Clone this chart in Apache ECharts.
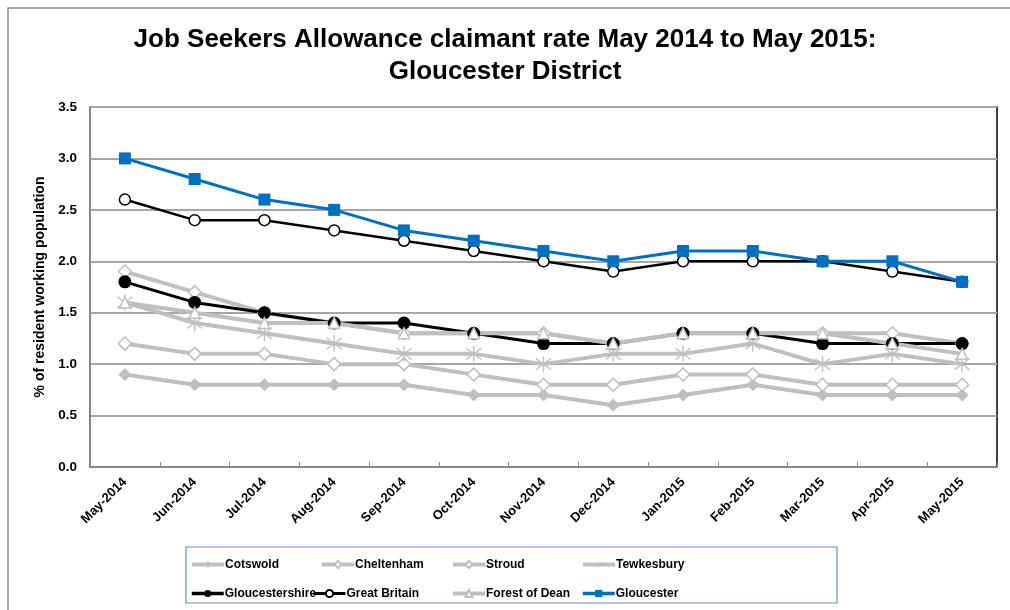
<!DOCTYPE html>
<html>
<head>
<meta charset="utf-8">
<script src="https://cdn.jsdelivr.net/npm/echarts@6/dist/echarts.min.js"></script>
<style>
html,body{margin:0;padding:0;background:#fff;}
#chart{width:1010px;height:610px;}
</style>
</head>
<body>
<div id="chart"></div>
<script>
const categories = ['May-2014','Jun-2014','Jul-2014','Aug-2014','Sep-2014','Oct-2014','Nov-2014','Dec-2014','Jan-2015','Feb-2015','Mar-2015','Apr-2015','May-2015'];
const cotswold        = [0.9,0.8,0.8,0.8,0.8,0.7,0.7,0.6,0.7,0.8,0.7,0.7,0.7];
const cheltenham      = [1.9,1.7,1.5,1.4,1.3,1.3,1.3,1.2,1.3,1.3,1.3,1.3,1.2];
const stroud          = [1.2,1.1,1.1,1.0,1.0,0.9,0.8,0.8,0.9,0.9,0.8,0.8,0.8];
const tewkesbury      = [1.6,1.4,1.3,1.2,1.1,1.1,1.0,1.1,1.1,1.2,1.0,1.1,1.0];
const gloucestershire = [1.8,1.6,1.5,1.4,1.4,1.3,1.2,1.2,1.3,1.3,1.2,1.2,1.2];
const greatBritain    = [2.6,2.4,2.4,2.3,2.2,2.1,2.0,1.9,2.0,2.0,2.0,1.9,1.8];
const forestOfDean    = [1.6,1.5,1.4,1.4,1.3,1.3,1.3,1.2,1.3,1.3,1.3,1.2,1.1];
const gloucester      = [3.0,2.8,2.6,2.5,2.3,2.2,2.1,2.0,2.1,2.1,2.0,2.0,1.8];

const GREY = '#bfbfbf', BLUE = '#0070c0';
const FONT = '"Liberation Sans", Arial, sans-serif';
const ASTERISK = 'path://M9.2,0 L10.8,0 L10.8,20 L9.2,20 Z M1.49,2.37 L19.49,16.37 L18.51,17.63 L0.51,3.63 Z M0.51,16.37 L18.51,2.37 L19.49,3.63 L1.49,17.63 Z';

function greySeries(name, data, symbol, size, filled) {
  return {
    name, type: 'line', data, symbol, symbolSize: size, showAllSymbol: true,
    lineStyle: { color: GREY, width: 4 },
    itemStyle: { color: filled ? GREY : '#fff', borderColor: GREY, borderWidth: filled ? 0 : 1.5 },
    emphasis: { disabled: true }, animation: false
  };
}

const series = [
  greySeries('Cotswold', cotswold, 'diamond', 13, true),
  greySeries('Cheltenham', cheltenham, 'diamond', 13, false),
  greySeries('Stroud', stroud, 'diamond', 13, false),
  { name: 'Tewkesbury', type: 'line', data: tewkesbury, symbol: ASTERISK, symbolSize: 16,
    lineStyle: { color: GREY, width: 4 }, itemStyle: { color: GREY }, animation: false },
  { name: 'Gloucestershire', type: 'line', data: gloucestershire, symbol: 'circle', symbolSize: 13,
    lineStyle: { color: '#000', width: 3 }, itemStyle: { color: '#000' }, animation: false },
  { name: 'Great Britain', type: 'line', data: greatBritain, symbol: 'circle', symbolSize: 11,
    lineStyle: { color: '#000', width: 2.5 }, itemStyle: { color: '#fff', borderColor: '#000', borderWidth: 1.5 }, animation: false },
  greySeries('Forest of Dean', forestOfDean, 'triangle', 11, false),
  { name: 'Gloucester', type: 'line', data: gloucester, symbol: 'rect', symbolSize: 12,
    lineStyle: { color: BLUE, width: 3 }, itemStyle: { color: BLUE }, animation: false }
];

const legendPos = [
  ['Cotswold', 190, 563, 4], ['Cheltenham', 320, 563, 4], ['Stroud', 451, 563, 4], ['Tewkesbury', 581, 563, 4],
  ['Gloucestershire', 190, 592, 3.5], ['Great Britain', 312, 592, 3], ['Forest of Dean', 451, 592, 4], ['Gloucester', 581, 592, 3.5]
];
const legends = legendPos.map(([n, x, y, w]) => ({
  data: [n], left: x, top: y - 4.5, padding: 0, itemWidth: 32, itemHeight: 9, itemGap: 0,
  selectedMode: false,
  lineStyle: { width: w },
  textStyle: { fontFamily: FONT, fontWeight: 'bold', fontSize: 12, color: '#000', padding: [0, 0, 0, -4] }
}));

const chart = echarts.init(document.getElementById('chart'), null, { renderer: 'canvas' });
chart.setOption({
  backgroundColor: '#fff',
  animation: false,
  title: {
    text: 'Job Seekers Allowance claimant rate May 2014 to May 2015:\nGloucester District',
    left: 'center', top: 19,
    textStyle: { fontFamily: FONT, fontWeight: 'bold', fontSize: 26, lineHeight: 32, color: '#000' }
  },
  legend: legends,
  graphic: [
    { type: 'rect', shape: { x: 8, y: 8, width: 1100, height: 700 }, style: { fill: null, stroke: '#8c8c8c', lineWidth: 1.5 }, silent: true, z: -1 },
    { type: 'rect', shape: { x: 186, y: 547, width: 651, height: 56 }, style: { fill: null, stroke: '#5b8fd0', lineWidth: 1.2 }, silent: true }
  ],
  grid: { left: 90, right: 13, top: 107, bottom: 143, show: true, borderColor: '#000', borderWidth: 1.5, containLabel: false },
  xAxis: {
    type: 'category', data: categories, boundaryGap: true,
    axisLine: { lineStyle: { color: '#888', width: 2 } },
    axisTick: { show: true, inside: true, length: 5, lineStyle: { color: '#888', width: 1 } },
    axisLabel: { rotate: 45, margin: 13, interval: 0, fontFamily: FONT, fontWeight: 'bold', fontSize: 13, color: '#000' },
    splitLine: { show: false }
  },
  yAxis: {
    type: 'value', min: 0, max: 3.5, interval: 0.5,
    name: '% of resident working population', nameLocation: 'middle', nameGap: 41, nameRotate: 90,
    nameTextStyle: { fontFamily: FONT, fontWeight: 'bold', fontSize: 14, color: '#000' },
    axisLine: { show: true, lineStyle: { color: '#888', width: 2 } },
    axisTick: { show: false },
    axisLabel: { margin: 13, fontFamily: FONT, fontWeight: 'bold', fontSize: 13.5, color: '#000', formatter: v => v.toFixed(1) },
    splitLine: { lineStyle: { color: '#a6a6a6', width: 2 } }
  },
  series
});
</script>
</body>
</html>
